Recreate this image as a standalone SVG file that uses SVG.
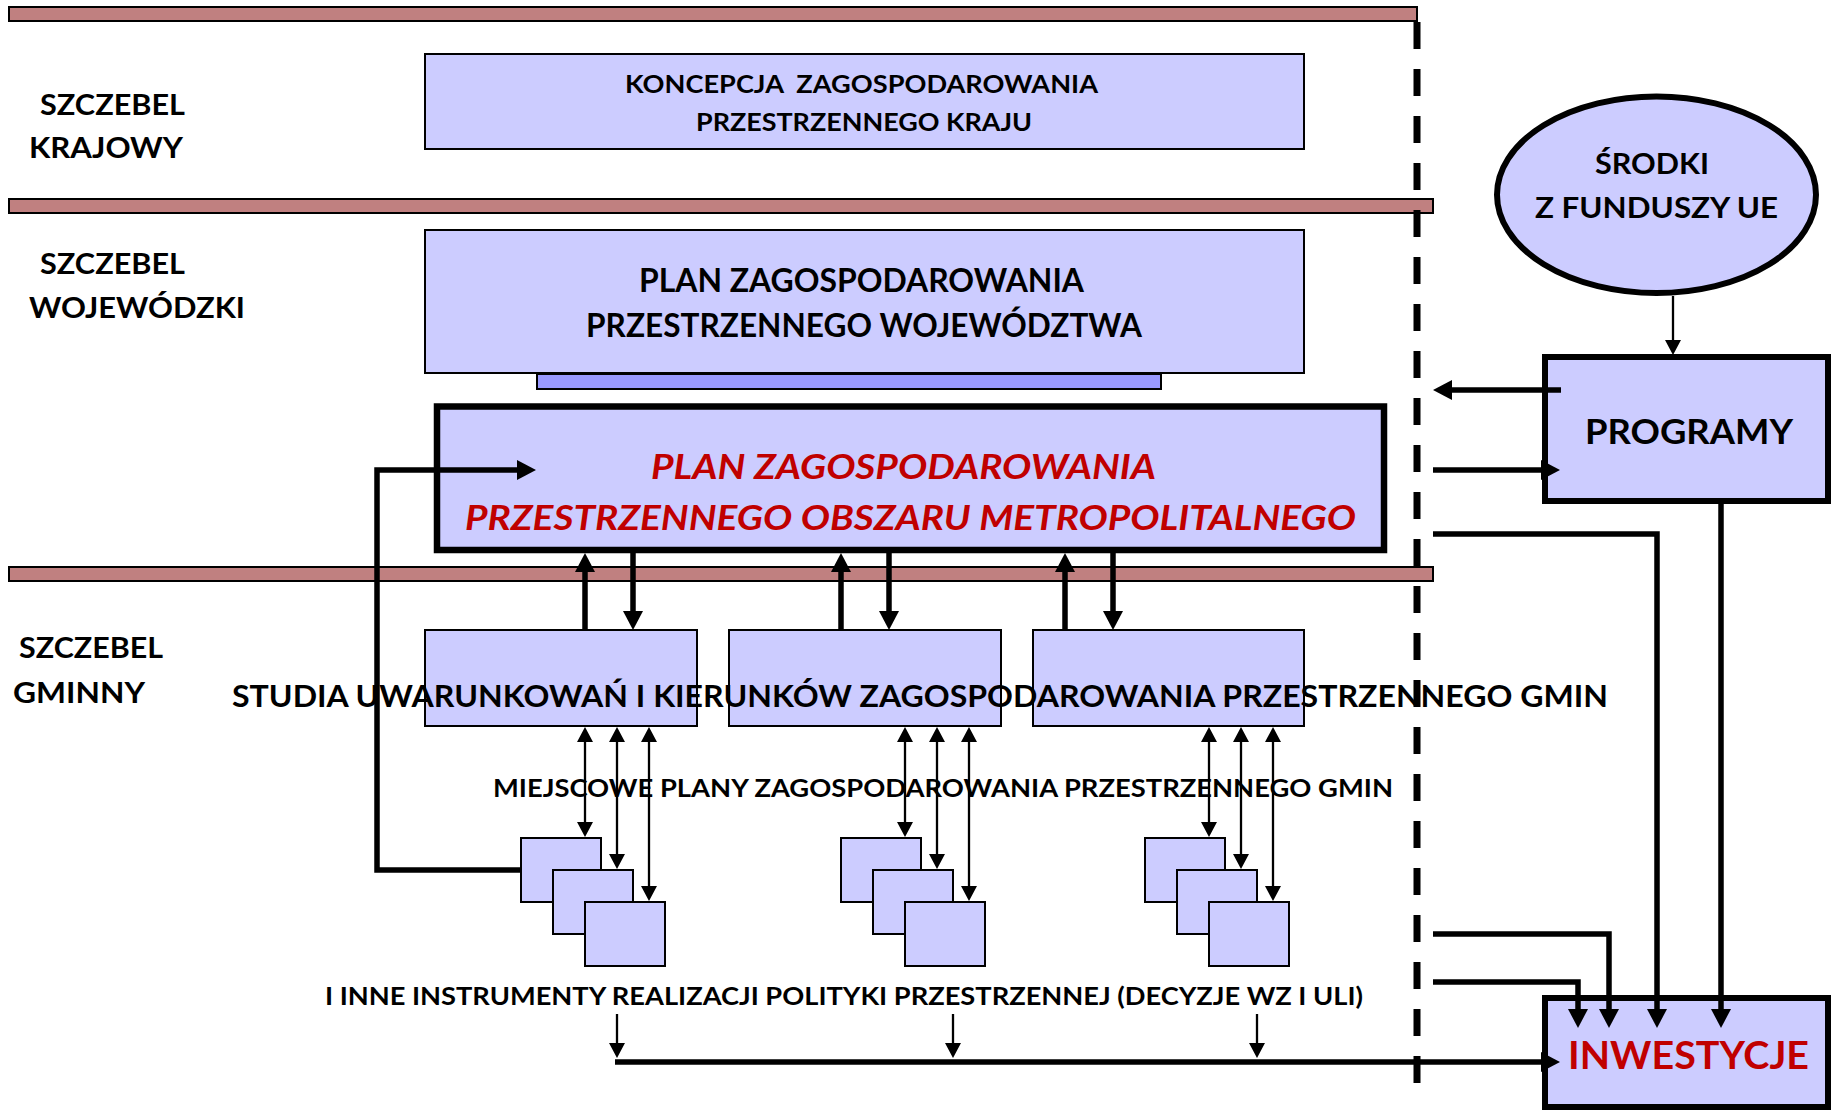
<svg xmlns="http://www.w3.org/2000/svg" width="1831" height="1110" viewBox="0 0 1831 1110">
  <style>
    .band { fill: #C08080; stroke: #000; stroke-width: 2; }
    .box { fill: #CCCCFF; stroke: #000; stroke-width: 2; }
    .thick { fill: #CCCCFF; stroke: #000; stroke-width: 6; }
    .t { font-family: Lato, "Liberation Sans", sans-serif; font-weight: bold; fill: #000; }
    .red { fill: #C00000; }
    .it { font-style: italic; }
    .c5 { fill: none; stroke: #000; stroke-width: 5.5; }
    .c2 { fill: none; stroke: #000; stroke-width: 2.3; }
  </style>
  <defs>
    <marker id="ah" viewBox="0 0 19 20" refX="0" refY="10" markerWidth="19" markerHeight="20" markerUnits="userSpaceOnUse" orient="auto-start-reverse" overflow="visible">
      <path d="M0,0 L19,10 L0,20 z" fill="#000"/>
    </marker>
    <marker id="as" viewBox="0 0 15 16" refX="0" refY="8" markerWidth="15" markerHeight="16" markerUnits="userSpaceOnUse" orient="auto-start-reverse" overflow="visible">
      <path d="M0,0 L15,8 L0,16 z" fill="#000"/>
    </marker>
  </defs>

  <g id="bands">
    <rect class="band" x="9" y="7" width="1408" height="14"/>
    <rect class="band" x="9" y="199" width="1424" height="14"/>
    <rect class="band" x="9" y="567" width="1424" height="14"/>
  </g>
  <line id="divider" x1="1417" y1="22" x2="1417" y2="1083" stroke="#000" stroke-width="7" stroke-dasharray="27 20"/>

  <g id="level-labels">
    <text class="t" font-size="28" x="40" y="115" textLength="145" lengthAdjust="spacingAndGlyphs">SZCZEBEL</text>
    <text class="t" font-size="28" x="29" y="158" textLength="154" lengthAdjust="spacingAndGlyphs">KRAJOWY</text>
    <text class="t" font-size="28" x="40" y="274" textLength="145" lengthAdjust="spacingAndGlyphs">SZCZEBEL</text>
    <text class="t" font-size="28" x="29" y="318" textLength="216" lengthAdjust="spacingAndGlyphs">WOJEWÓDZKI</text>
    <text class="t" font-size="28" x="19" y="658" textLength="144" lengthAdjust="spacingAndGlyphs">SZCZEBEL</text>
    <text class="t" font-size="28" x="13" y="703" textLength="132" lengthAdjust="spacingAndGlyphs">GMINNY</text>
  </g>

  <g id="kpzk">
    <rect class="box" x="425" y="54" width="879" height="95"/>
    <text class="t" font-size="25" x="625" y="93" textLength="473" lengthAdjust="spacingAndGlyphs" xml:space="preserve">KONCEPCJA  ZAGOSPODAROWANIA</text>
    <text class="t" font-size="25" x="696" y="131" textLength="336" lengthAdjust="spacingAndGlyphs">PRZESTRZENNEGO KRAJU</text>
  </g>

  <g id="pzpw">
    <rect x="537" y="374" width="624" height="15" fill="#9999FF" stroke="#000" stroke-width="2"/>
    <rect class="box" x="425" y="230" width="879" height="143"/>
    <text class="t" font-size="33" x="639" y="292" textLength="445" lengthAdjust="spacingAndGlyphs">PLAN ZAGOSPODAROWANIA</text>
    <text class="t" font-size="33" x="586" y="337" textLength="556" lengthAdjust="spacingAndGlyphs">PRZESTRZENNEGO WOJEWÓDZTWA</text>
  </g>

  <g id="pzpom">
    <rect x="437" y="406.5" width="947" height="143.5" fill="#CCCCFF" stroke="#000" stroke-width="6.5"/>
    <text class="t red it" font-size="34" x="651" y="479" textLength="505" lengthAdjust="spacingAndGlyphs">PLAN ZAGOSPODAROWANIA</text>
    <text class="t red it" font-size="34" x="465" y="530" textLength="891" lengthAdjust="spacingAndGlyphs">PRZESTRZENNEGO OBSZARU METROPOLITALNEGO</text>
  </g>

  <g id="studia">
    <rect class="box" x="425" y="630" width="272" height="96"/>
    <rect class="box" x="729" y="630" width="272" height="96"/>
    <rect class="box" x="1033" y="630" width="271" height="96"/>
  </g>
  <g id="studia-label">
    <text class="t" font-size="31" x="232" y="707" textLength="1376" lengthAdjust="spacingAndGlyphs">STUDIA UWARUNKOWAŃ I KIERUNKÓW ZAGOSPODAROWANIA PRZESTRZENNEGO GMIN</text>
  </g>

  <g id="mpzp-label">
    <text class="t" font-size="25" x="493" y="797" textLength="900" lengthAdjust="spacingAndGlyphs">MIEJSCOWE PLANY ZAGOSPODAROWANIA PRZESTRZENNEGO GMIN</text>
  </g>

  <g id="mpzp-1">
    <rect class="box" x="521" y="838" width="80" height="64"/>
    <rect class="box" x="553" y="870" width="80" height="64"/>
    <rect class="box" x="585" y="902" width="80" height="64"/>
  </g>
  <g id="mpzp-2">
    <rect class="box" x="841" y="838" width="80" height="64"/>
    <rect class="box" x="873" y="870" width="80" height="64"/>
    <rect class="box" x="905" y="902" width="80" height="64"/>
  </g>
  <g id="mpzp-3">
    <rect class="box" x="1145" y="838" width="80" height="64"/>
    <rect class="box" x="1177" y="870" width="80" height="64"/>
    <rect class="box" x="1209" y="902" width="80" height="64"/>
  </g>

  <g id="instrumenty-label">
    <text class="t" font-size="25" x="325" y="1005" textLength="1038" lengthAdjust="spacingAndGlyphs">I INNE INSTRUMENTY REALIZACJI POLITYKI PRZESTRZENNEJ (DECYZJE WZ I ULI)</text>
  </g>

  <g id="srodki-ue">
    <ellipse cx="1656.5" cy="194.7" rx="159.5" ry="98.3" fill="#CCCCFF" stroke="#000" stroke-width="6"/>
    <text class="t" font-size="28" x="1595" y="174" textLength="114" lengthAdjust="spacingAndGlyphs">ŚRODKI</text>
    <text class="t" font-size="28" x="1535" y="218" textLength="243" lengthAdjust="spacingAndGlyphs">Z FUNDUSZY UE</text>
  </g>

  <g id="programy">
    <rect class="thick" x="1545" y="357" width="283" height="144"/>
    <text class="t" font-size="34" x="1585" y="444" textLength="208" lengthAdjust="spacingAndGlyphs">PROGRAMY</text>
  </g>

  <g id="inwestycje">
    <rect class="thick" x="1545" y="998" width="283" height="109"/>
    <text class="t red" font-size="38" x="1568" y="1069" textLength="241" lengthAdjust="spacingAndGlyphs">INWESTYCJE</text>
  </g>

  <g id="connectors">
    <!-- loop from local plans to metropolitan plan -->
    <path class="c5" d="M521,870 H377 V470 H517" marker-end="url(#ah)"/>
    <!-- metro <-> studia thick arrows -->
    <path class="c5" d="M585,630 V572" marker-end="url(#ah)"/>
    <path class="c5" d="M633,553 V611" marker-end="url(#ah)"/>
    <path class="c5" d="M841,630 V572" marker-end="url(#ah)"/>
    <path class="c5" d="M889,553 V611" marker-end="url(#ah)"/>
    <path class="c5" d="M1065,630 V572" marker-end="url(#ah)"/>
    <path class="c5" d="M1113,553 V611" marker-end="url(#ah)"/>
    <!-- studia <-> local plans thin double arrows -->
    <path class="c2" d="M585,742 V822" marker-start="url(#as)" marker-end="url(#as)"/>
    <path class="c2" d="M617,742 V854" marker-start="url(#as)" marker-end="url(#as)"/>
    <path class="c2" d="M649,742 V886" marker-start="url(#as)" marker-end="url(#as)"/>
    <path class="c2" d="M905,742 V822" marker-start="url(#as)" marker-end="url(#as)"/>
    <path class="c2" d="M937,742 V854" marker-start="url(#as)" marker-end="url(#as)"/>
    <path class="c2" d="M969,742 V886" marker-start="url(#as)" marker-end="url(#as)"/>
    <path class="c2" d="M1209,742 V822" marker-start="url(#as)" marker-end="url(#as)"/>
    <path class="c2" d="M1241,742 V854" marker-start="url(#as)" marker-end="url(#as)"/>
    <path class="c2" d="M1273,742 V886" marker-start="url(#as)" marker-end="url(#as)"/>
    <!-- instruments down to collector line -->
    <path class="c2" d="M617,1014 V1043" marker-end="url(#as)"/>
    <path class="c2" d="M953,1014 V1043" marker-end="url(#as)"/>
    <path class="c2" d="M1257,1014 V1043" marker-end="url(#as)"/>
    <path class="c5" d="M615,1062 H1541" marker-end="url(#ah)"/>
    <!-- EU funds to programmes -->
    <path class="c2" d="M1673,296 V340" marker-end="url(#as)"/>
    <!-- programmes <-> planning -->
    <path class="c5" d="M1561,390 H1452" marker-end="url(#ah)"/>
    <path class="c5" d="M1433,470 H1541" marker-end="url(#ah)"/>
    <!-- to investments -->
    <path class="c5" d="M1433,534 H1657 V1009" marker-end="url(#ah)"/>
    <path class="c5" d="M1721,504 V1009" marker-end="url(#ah)"/>
    <path class="c5" d="M1433,934 H1609 V1009" marker-end="url(#ah)"/>
    <path class="c5" d="M1433,982 H1578 V1009" marker-end="url(#ah)"/>
  </g>
</svg>
